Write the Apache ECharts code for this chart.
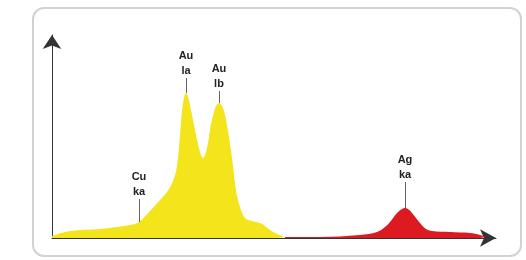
<!DOCTYPE html>
<html>
<head>
<meta charset="utf-8">
<script src="https://cdn.jsdelivr.net/npm/echarts@6/dist/echarts.min.js"></script>
<style>
  html, body { margin: 0; padding: 0; background: #fff; }
  #chart { width: 526px; height: 260px; }
</style>
</head>
<body>
<div id="chart"></div>
<script>
// spectrum: [channel, counts]
const goldCurve = [
  [0, 2], [18, 7], [48, 9], [78, 13], [87, 16], [98, 27], [108, 38], [115, 46],
  [121, 57], [125, 72], [128, 103], [130, 127], [132, 140], [134, 145], [136, 141],
  [139, 128], [143, 108], [148, 86], [151, 80], [155, 90], [159, 114], [162, 126],
  [164, 132], [167, 135], [170, 132], [173, 123], [176, 107], [180, 80], [184, 48],
  [188, 31], [193, 20], [200, 17], [208, 15], [213, 12], [218, 8], [225, 4], [233, 1]
];
const silverCurve = [
  [233, 1], [268, 1], [308, 3], [325, 6], [333, 11], [338, 16], [345, 25],
  [350, 29], [353, 30], [356, 29], [360, 25], [368, 15], [374, 9], [380, 7],
  [398, 6], [418, 5], [428, 3], [434, 1]
];

// peak labels: name, channel, counts at the top of the leader line
const goldPeaks = [
  { name: 'Cu\nka', x: 87, top: 39 },
  { name: 'Au\nla', x: 134, top: 160 },
  { name: 'Au\nlb', x: 167, top: 147 }
];
const silverPeaks = [
  { name: 'Ag\nka', x: 353, top: 56 }
];

const peakValue = (curve, x) => curve.find(p => p[0] === x)[1];

const leaderLines = (curve, peaks) => peaks.map(p => [
  { coord: [p.x, peakValue(curve, p.x)] },
  { coord: [p.x, p.top], label: { formatter: p.name } }
]);

const chart = echarts.init(document.getElementById('chart'));

const markLineStyle = {
  silent: true,
  symbol: ['none', 'none'],
  lineStyle: { color: '#666', width: 1, type: 'solid' },
  label: {
    show: true,
    position: 'end',
    distance: 0,
    color: '#222',
    fontFamily: 'Liberation Sans, Arial, sans-serif',
    fontSize: 11,
    fontWeight: 'bold',
    lineHeight: 15,
    align: 'center'
  },
  emphasis: { disabled: true }
};

const option = {
  animation: false,
  grid: { left: 52, right: 30, top: 35, bottom: 22 },
  xAxis: {
    type: 'value',
    min: 0,
    max: 444,
    axisLine: {
      show: true,
      symbol: ['none', 'arrow'],
      symbolSize: [13, 16],
      lineStyle: { color: '#333', width: 1 }
    },
    axisTick: { show: false },
    axisLabel: { show: false },
    splitLine: { show: false }
  },
  yAxis: {
    type: 'value',
    min: 0,
    max: 203,
    axisLine: {
      show: true,
      symbol: ['none', 'arrow'],
      symbolSize: [14, 14],
      lineStyle: { color: '#333', width: 1 }
    },
    axisTick: { show: false },
    axisLabel: { show: false },
    splitLine: { show: false }
  },
  graphic: [
    {
      type: 'rect',
      z: -1,
      shape: { x: 33, y: 8, width: 488, height: 248, r: 11 },
      style: { fill: 'none', stroke: '#d2d2d2', lineWidth: 2 }
    }
  ],
  series: [
    {
      name: 'Au',
      type: 'line',
      data: goldCurve,
      smooth: 0.35,
      showSymbol: false,
      lineStyle: { width: 0 },
      areaStyle: { color: '#f3e41c', opacity: 1 },
      markLine: Object.assign({}, markLineStyle, { data: leaderLines(goldCurve, goldPeaks) })
    },
    {
      name: 'Ag',
      type: 'line',
      data: silverCurve,
      smooth: 0.35,
      showSymbol: false,
      lineStyle: { width: 0 },
      areaStyle: { color: '#dc1a20', opacity: 1 },
      markLine: Object.assign({}, markLineStyle, { data: leaderLines(silverCurve, silverPeaks) })
    }
  ]
};

chart.setOption(option);
window.addEventListener('resize', () => chart.resize());
</script>
</body>
</html>
